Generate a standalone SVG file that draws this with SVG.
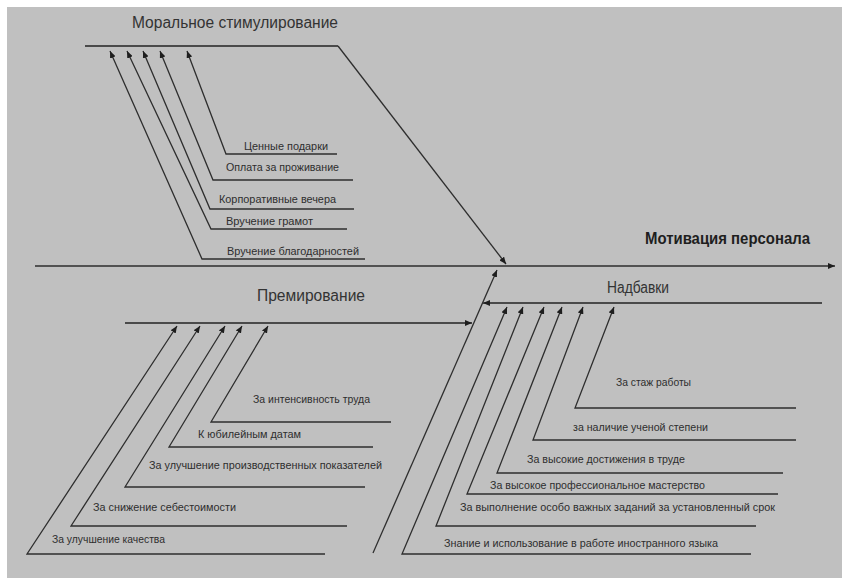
<svg xmlns="http://www.w3.org/2000/svg" width="842" height="578" viewBox="0 0 842 578">
<style>
.bg{fill:#c0c0c0}
.ln{fill:none;stroke:#2e2e2e;stroke-width:1.3}
.bone{fill:none;stroke:#4a4a4a;stroke-width:1.8}
.lbl{font-family:"Liberation Sans","Noto Sans",sans-serif;font-size:11px;fill:#2e2e2e}
.ttl{font-family:"Liberation Sans","Noto Sans",sans-serif;font-size:16px;fill:#333}
.head{font-family:"Liberation Sans","Noto Sans",sans-serif;font-size:16px;font-weight:bold;fill:#1e1e1e}
</style>
<defs>
<marker id="ah" markerUnits="userSpaceOnUse" markerWidth="7" markerHeight="6" refX="7" refY="3" orient="auto">
<path d="M0,0 L7,3 L0,6 z" fill="#1e1e1e"/>
</marker>
</defs>
<rect x="0" y="0" width="842" height="578" fill="#ffffff"/>
<rect class="bg" x="7" y="7" width="835" height="571"/>

<g id="connectors">
<polyline class="ln" points="35,266 835,266" marker-end="url(#ah)"/>
<polyline class="bone" points="85,46 338,46"/>
<polyline class="ln" points="338,46 506,264" marker-end="url(#ah)"/>
<polyline class="bone" points="125,323 472,323" marker-end="url(#ah)"/>
<polyline class="ln" points="373,553 497,270" marker-end="url(#ah)"/>
<polyline class="bone" points="822,303 483,303" marker-end="url(#ah)"/>
</g>

<g id="head">
<text class="head" x="645" y="244" textLength="165" lengthAdjust="spacingAndGlyphs">Мотивация персонала</text>
</g>

<g id="moral">
<text class="ttl" x="132" y="28" textLength="206" lengthAdjust="spacingAndGlyphs">Моральное  стимулирование</text>
<g id="m1">
<polyline class="ln" points="337,154 226,154 187,51" marker-end="url(#ah)"/>
<text class="lbl" x="244" y="150" textLength="84" lengthAdjust="spacingAndGlyphs">Ценные подарки</text>
</g>
<g id="m2">
<polyline class="ln" points="353,180 213,180 160,51" marker-end="url(#ah)"/>
<text class="lbl" x="226" y="171" textLength="113" lengthAdjust="spacingAndGlyphs">Оплата за проживание</text>
</g>
<g id="m3">
<polyline class="ln" points="354,209 210,209 143,51" marker-end="url(#ah)"/>
<text class="lbl" x="219" y="203" textLength="117" lengthAdjust="spacingAndGlyphs">Корпоративные вечера</text>
</g>
<g id="m4">
<polyline class="ln" points="347,229 211,229 127,51" marker-end="url(#ah)"/>
<text class="lbl" x="226" y="225" textLength="87" lengthAdjust="spacingAndGlyphs">Вручение  грамот</text>
</g>
<g id="m5">
<polyline class="ln" points="365,259 202,259 110,51" marker-end="url(#ah)"/>
<text class="lbl" x="227" y="255" textLength="132" lengthAdjust="spacingAndGlyphs">Вручение благодарностей</text>
</g>
</g>

<g id="premium">
<text class="ttl" x="257" y="301" textLength="108" lengthAdjust="spacingAndGlyphs">Премирование</text>
<g id="p1">
<polyline class="ln" points="391,422 211,422 268,326" marker-end="url(#ah)"/>
<text class="lbl" x="253" y="403" textLength="117" lengthAdjust="spacingAndGlyphs">За интенсивность труда</text>
</g>
<g id="p2">
<polyline class="ln" points="373,447 169,447 242,326" marker-end="url(#ah)"/>
<text class="lbl" x="198" y="438" textLength="103" lengthAdjust="spacingAndGlyphs">К юбилейным датам</text>
</g>
<g id="p3">
<polyline class="ln" points="365,487 125,487 225,326" marker-end="url(#ah)"/>
<text class="lbl" x="149" y="469" textLength="233" lengthAdjust="spacingAndGlyphs">За улучшение производственных показателей</text>
</g>
<g id="p4">
<polyline class="ln" points="347,526 71,526 200,326" marker-end="url(#ah)"/>
<text class="lbl" x="93" y="511" textLength="143" lengthAdjust="spacingAndGlyphs">За снижение себестоимости</text>
</g>
<g id="p5">
<polyline class="ln" points="325,554 27,554 177,326" marker-end="url(#ah)"/>
<text class="lbl" x="52" y="543" textLength="113" lengthAdjust="spacingAndGlyphs">За улучшение качества</text>
</g>
</g>

<g id="bonus">
<text class="ttl" x="607" y="293" textLength="62" lengthAdjust="spacingAndGlyphs">Надбавки</text>
<g id="n1">
<polyline class="ln" points="796,408 575,408 614,307" marker-end="url(#ah)"/>
<text class="lbl" x="616" y="386" textLength="75" lengthAdjust="spacingAndGlyphs">За стаж работы</text>
</g>
<g id="n2">
<polyline class="ln" points="796,440 533,440 583,307" marker-end="url(#ah)"/>
<text class="lbl" x="573" y="431" textLength="135" lengthAdjust="spacingAndGlyphs">за наличие ученой степени</text>
</g>
<g id="n3">
<polyline class="ln" points="783,473 497,473 562,307" marker-end="url(#ah)"/>
<text class="lbl" x="527" y="463" textLength="158" lengthAdjust="spacingAndGlyphs">За высокие достижения в труде</text>
</g>
<g id="n4">
<polyline class="ln" points="778,494 467,494 544,307" marker-end="url(#ah)"/>
<text class="lbl" x="490" y="489" textLength="215" lengthAdjust="spacingAndGlyphs">За высокое профессиональное мастерство</text>
</g>
<g id="n5">
<polyline class="ln" points="756,526 436,526 523,307" marker-end="url(#ah)"/>
<text class="lbl" x="460" y="511" textLength="315" lengthAdjust="spacingAndGlyphs">За выполнение особо важных заданий за установленный срок</text>
</g>
<g id="n6">
<polyline class="ln" points="751,554 402,554 507,307" marker-end="url(#ah)"/>
<text class="lbl" x="444" y="547" textLength="274" lengthAdjust="spacingAndGlyphs">Знание и использование в работе иностранного языка</text>
</g>
</g>
</svg>
